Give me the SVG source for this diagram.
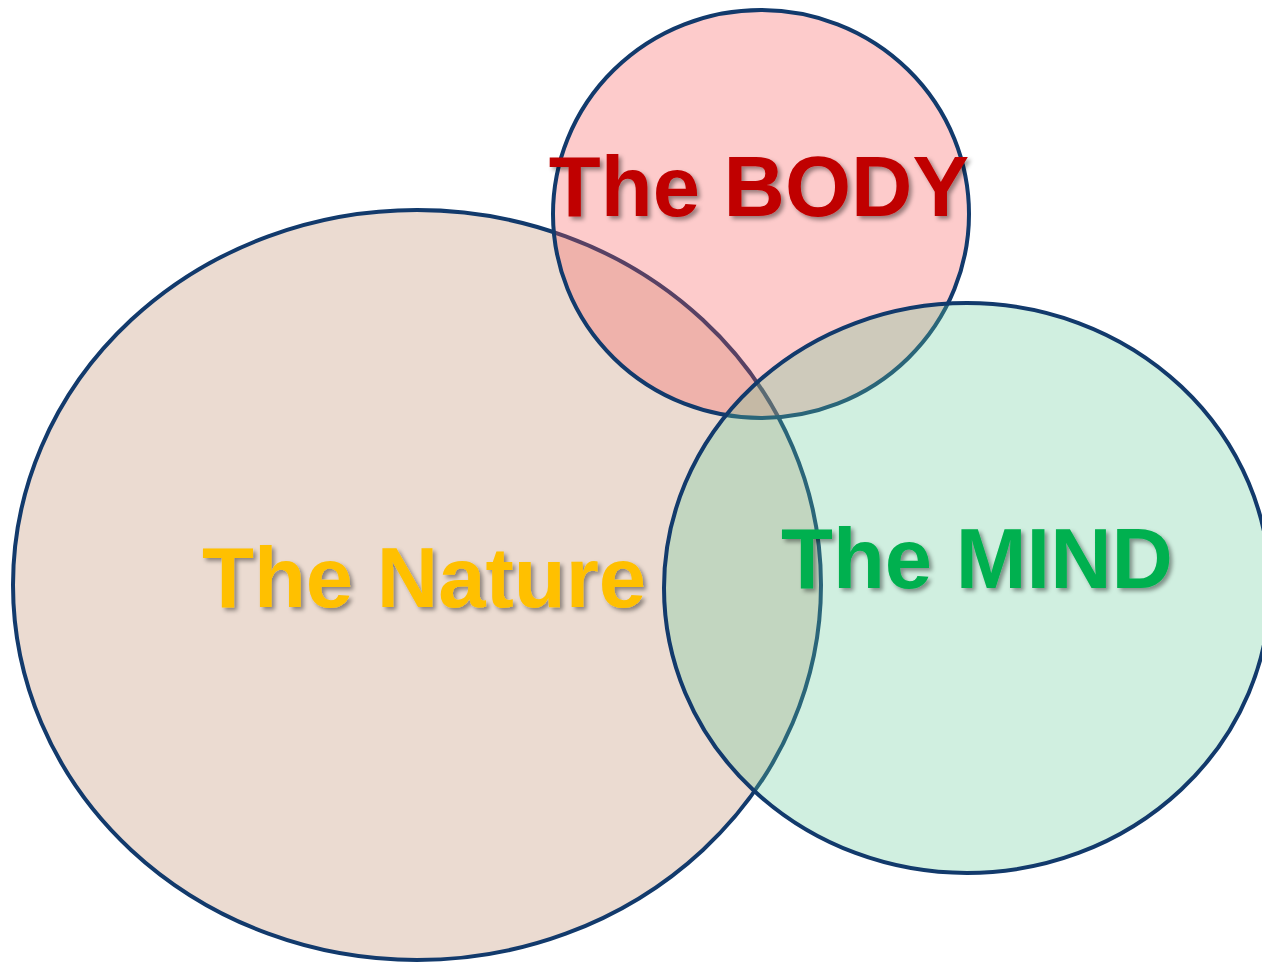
<svg xmlns="http://www.w3.org/2000/svg" width="1262" height="963" viewBox="0 0 1262 963">
  <defs>
    <style>
      .circle { stroke: #123A6C; stroke-width: 4; }
      .label { font-family: "Liberation Sans", Arial, sans-serif; font-weight: bold; font-size: 85px; text-anchor: middle; filter: url(#shadow); }
    </style>
    <filter id="shadow" x="-10%" y="-20%" width="120%" height="150%">
      <feDropShadow dx="3" dy="3" stdDeviation="2" flood-color="#000" flood-opacity="0.4"/>
    </filter>
  </defs>
  <rect width="1262" height="963" fill="#FFFFFF"/>
  <g id="nature">
    <ellipse class="circle" cx="417" cy="585" rx="404" ry="375" fill="#BC8766" fill-opacity="0.3"/>
  </g>
  <g id="body">
    <ellipse class="circle" cx="761" cy="214" rx="208" ry="204" fill="#F85252" fill-opacity="0.3"/>
  </g>
  <g id="mind">
    <ellipse class="circle" cx="967" cy="588" rx="303" ry="285" fill="#62CA98" fill-opacity="0.3"/>
  </g>
  <g id="connectors"></g>
  <g id="labels">
    <text class="label" x="759" y="216" fill="#C00000">The BODY</text>
    <text class="label" x="424" y="607" fill="#FFC000">The Nature</text>
    <text class="label" x="977" y="588" fill="#00B050">The MIND</text>
  </g>
</svg>
